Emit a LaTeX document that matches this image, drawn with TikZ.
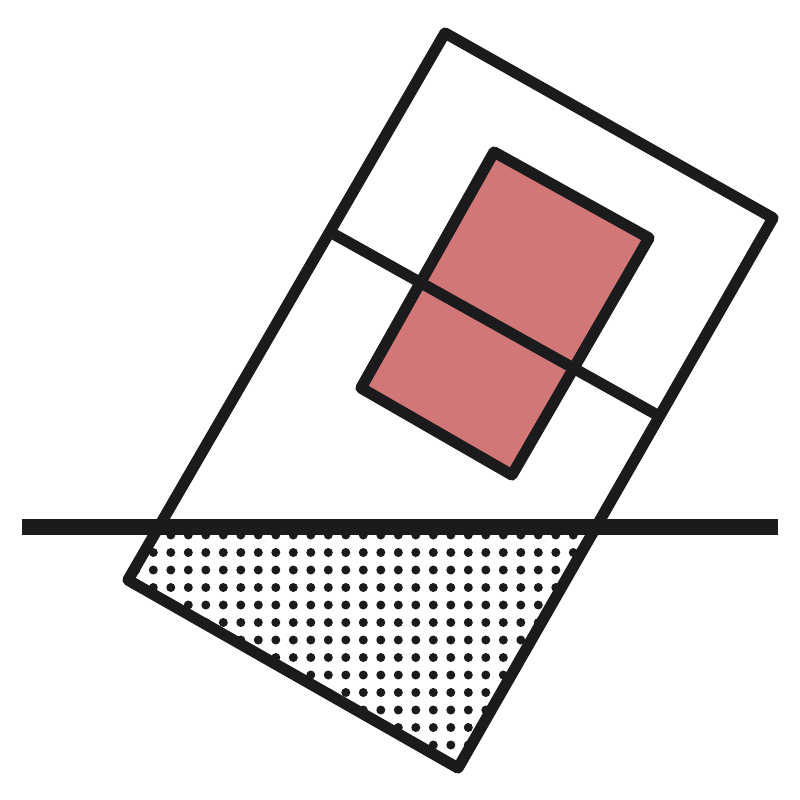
\documentclass[tikz,border=0pt]{standalone}
\begin{document}
\begin{tikzpicture}[x=0.01cm,y=-0.01cm,
  ink/.style={draw=inkc,line width=3.2pt,line join=round},
  dotc/.style={fill=inkc}]
\definecolor{inkc}{HTML}{1B1B1D}
\definecolor{redc}{HTML}{D27777}
\useasboundingbox (0,0) rectangle (800,800);
% corners of main rectangle
\coordinate (T) at (445,33);
\coordinate (R) at (773,218);
\coordinate (B) at (458,768);
\coordinate (L) at (128,580);
% waterline intersections
\coordinate (WL) at (159,527);
\coordinate (WR) at (596,527);
% dotted region
\begin{scope}
\clip (WL) -- (WR) -- (B) -- (L) -- cycle;
\foreach \i in {-1,...,26}{
  \foreach \j in {0,...,14}{
    \fill[dotc] ({153.3+17.5*\i},{535+17.5*\j}) circle (0.045cm);
  }
}
\end{scope}
% red rectangle
\coordinate (rT) at (494,152);
\coordinate (rR) at (649,238);
\coordinate (rB) at (512,475);
\coordinate (rL) at (361,388);
\draw[ink,fill=redc] (rT) -- (rR) -- (rB) -- (rL) -- cycle;
% main rectangle
\draw[ink] (T) -- (R) -- (B) -- (L) -- cycle;
% cross line
\coordinate (cA) at (330,232);
\coordinate (cB) at (659,416);
\draw[ink] (cA) -- (cB);
% waterline
\coordinate (hA) at (22,527);
\coordinate (hB) at (778,527);
\draw[draw=inkc,line width=4.4pt] (hA) -- (hB);
\end{tikzpicture}
\end{document}
